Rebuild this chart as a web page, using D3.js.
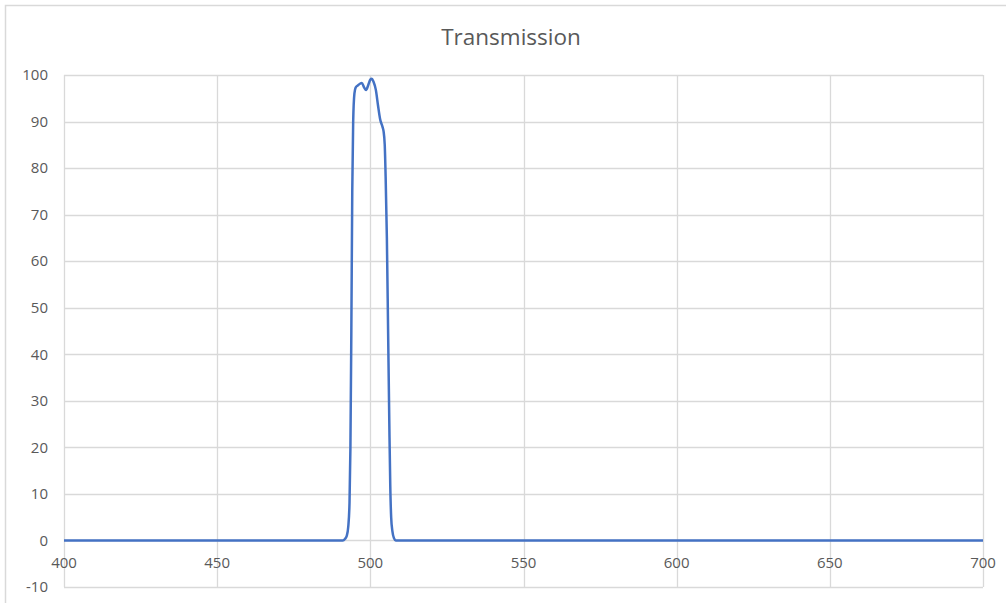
<!DOCTYPE html>
<html>
<head>
<meta charset="utf-8">
<script src="https://cdn.jsdelivr.net/npm/d3@7"></script>
<style>
  body { margin: 0; background: #fff; }
  svg { display: block; }
  .tick-label { font-family: "Open Sans", sans-serif; font-size: 15px; fill: #595959; }
  .title { font-family: "Open Sans", sans-serif; font-size: 22.5px; fill: #595959; }
</style>
</head>
<body>
<svg id="chart"></svg>
<script>
// wavelength (nm) and transmission (%)
const wavelength = [400, 450, 490, 491, 491.7, 492.3, 492.8, 493.2, 493.5, 493.8, 494.1, 494.4, 494.8, 495.2,
    496, 497.2, 498, 498.6, 499.3, 500, 500.5, 501, 501.8, 502.5, 503.2, 504, 504.3, 504.7, 505, 505.4,
    505.8, 506.2, 506.5, 506.8, 507.2, 507.7, 508.3, 510, 550, 600, 650, 700];
const transmission = [0, 0, 0, 0, 0.3, 1, 3, 8, 20, 45, 75, 90, 96, 97.3,
    97.8, 98.3, 97.3, 96.8, 97.8, 99, 99.2, 98.6, 96.8, 93.5, 90.5, 88.8, 88, 85, 78, 65,
    45, 25, 12, 5, 2, 0.5, 0, 0, 0, 0, 0, 0];

const xTicks = [400, 450, 500, 550, 600, 650, 700];
const yTicks = [-10, 0, 10, 20, 30, 40, 50, 60, 70, 80, 90, 100];

const width = 1006, height = 603;
const margin = { top: 75, right: 23, bottom: 16, left: 64 };

const svg = d3.select("#chart")
    .attr("width", width)
    .attr("height", height);

// outer chart frame (only top and left edges fall inside the window)
svg.append("rect")
    .attr("x", 5.5).attr("y", 5.5)
    .attr("width", 1020).attr("height", 620)
    .attr("fill", "#fff")
    .attr("stroke", "#d9d9d9")
    .attr("stroke-width", 1.5);

const x = d3.scaleLinear()
    .domain([400, 700])
    .range([margin.left, width - margin.right]);

const y = d3.scaleLinear()
    .domain([-10, 100])
    .range([height - margin.bottom, margin.top]);

// horizontal grid
svg.append("g")
    .selectAll("line")
    .data(yTicks)
    .join("line")
    .attr("x1", x(400)).attr("x2", x(700))
    .attr("y1", d => Math.round(y(d)) + 0.5)
    .attr("y2", d => Math.round(y(d)) + 0.5)
    .style("stroke", "#d9d9d9")
    .style("stroke-width", 1.3);

// vertical grid
svg.append("g")
    .selectAll("line")
    .data(xTicks)
    .join("line")
    .attr("x1", d => Math.round(x(d)) + 0.5)
    .attr("x2", d => Math.round(x(d)) + 0.5)
    .attr("y1", y(100)).attr("y2", y(-10))
    .style("stroke", "#d9d9d9")
    .style("stroke-width", 1.3);

// y tick labels
svg.append("g")
    .selectAll("text")
    .data(yTicks)
    .join("text")
    .attr("class", "tick-label")
    .attr("x", margin.left - 16)
    .attr("y", d => y(d))
    .attr("dy", "0.35em")
    .attr("text-anchor", "end")
    .text(d => d);

// x tick labels sit under the zero line
svg.append("g")
    .selectAll("text")
    .data(xTicks)
    .join("text")
    .attr("class", "tick-label")
    .attr("x", d => x(d))
    .attr("y", y(0) + 22)
    .attr("dy", "0.35em")
    .attr("text-anchor", "middle")
    .text(d => d);

// transmission curve
const line = d3.line()
    .x((d, i) => x(wavelength[i]))
    .y(d => y(d))
    .curve(d3.curveMonotoneX);

svg.append("path")
    .datum(transmission)
    .attr("d", line)
    .attr("fill", "none")
    .style("stroke", "#4472c4")
    .style("stroke-width", 2.5)
    .style("stroke-linejoin", "round");

svg.append("text")
    .attr("class", "title")
    .attr("x", 511)
    .attr("y", 45)
    .attr("text-anchor", "middle")
    .text("Transmission");
</script>
</body>
</html>
